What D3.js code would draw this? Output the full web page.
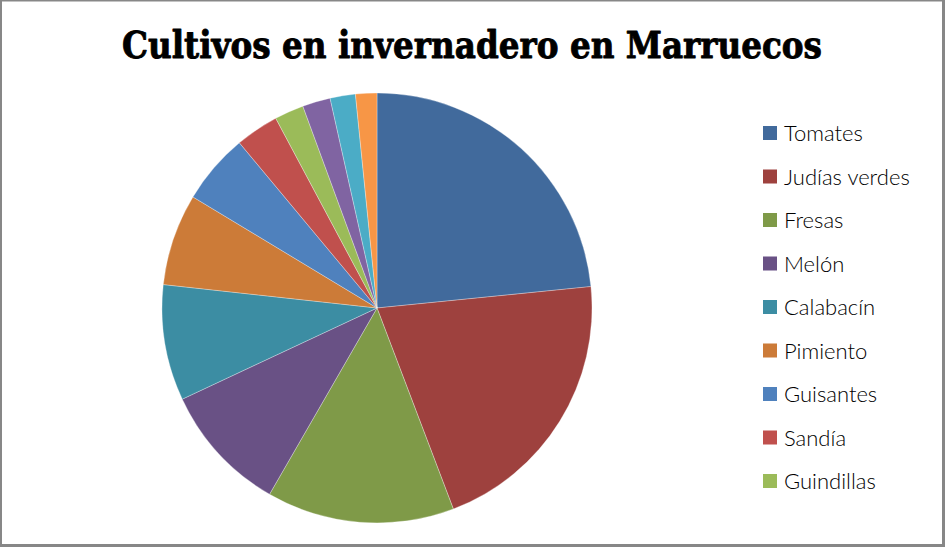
<!DOCTYPE html>
<html><head><meta charset="utf-8">
<script src="https://cdn.jsdelivr.net/npm/d3@7"></script>
<style>html,body{margin:0;padding:0;background:#fff;overflow:hidden}</style>
</head><body>
<svg id="chart" width="945" height="547"></svg>
<script>
const title = "Cultivos en invernadero en Marruecos";
const categories = ["Tomates","Judías verdes","Fresas","Melón","Calabacín","Pimiento","Guisantes","Sandía","Guindillas","Berenjenas","Pepinos","Otros"];
const values = [23.4,20.8,14.1,9.7,8.7,6.9,5.3,3.25,2.2,2.1,1.9,1.6];
const legendCount = 9;
const colors = ["#416A9C","#9E413E","#7F9A48","#695185","#3C8DA3","#CC7B38","#4F81BD","#C0504D","#9BBB59","#8064A2","#4BACC6","#F79646"];

const svg = d3.select("#chart");
const W = 945, H = 547;
svg.append("rect").attr("x",0).attr("y",0).attr("width",W).attr("height",H).attr("fill","#fff");

// border
svg.append("rect").attr("x",1).attr("y",0.5).attr("width",W-3).attr("height",H-2.5)
  .attr("fill","none").attr("stroke","#878787").attr("stroke-width",2);
svg.append("line").attr("x1",W-1.5).attr("x2",W-1.5).attr("y1",0).attr("y2",H).attr("stroke","#878787").attr("stroke-width",3);
svg.append("line").attr("x1",0).attr("x2",W).attr("y1",H-1.5).attr("y2",H-1.5).attr("stroke","#878787").attr("stroke-width",3);

// title
const t = svg.append("text").attr("x",472).attr("y",58).attr("text-anchor","middle")
  .attr("font-family","'DejaVu Serif'").attr("font-weight","bold")
  .attr("font-size",38).attr("fill","#000")
  .attr("stroke","#000").attr("stroke-width",0.9).attr("stroke-linejoin","round").text(title);
const tl = t.node().getComputedTextLength();
if (Math.abs(tl-700) > 2) t.attr("textLength",700).attr("lengthAdjust","spacingAndGlyphs");

// pie
const cx = 377, cy = 308, R = 215;
const color = d3.scaleOrdinal().domain(categories).range(colors);
const pie = d3.pie().sort(null).value(d => d.v);
const data = categories.map((c,i) => ({c, v: values[i]}));
const arc = d3.arc().innerRadius(0).outerRadius(R);
svg.append("g").attr("transform",`translate(${cx},${cy})`)
  .selectAll("path").data(pie(data)).join("path")
  .attr("d",arc).attr("fill",d => color(d.data.c))
  .attr("stroke","#fff").attr("stroke-width",0.5).attr("stroke-opacity",0.6);

// legend
const ly = d3.scalePoint().domain(categories.slice(0,legendCount)).range([133,481]);
const lg = svg.append("g").selectAll("g").data(categories.slice(0,legendCount)).join("g")
  .attr("transform",c => `translate(763,${ly(c)})`);
lg.append("rect").attr("x",0).attr("y",-7).attr("width",14).attr("height",14).attr("fill",c => color(c));
lg.append("text").attr("x",21).attr("y",8).attr("font-family","Lato, sans-serif").attr("font-weight",300)
  .attr("font-size",22).attr("fill","#000").text(c => c);
</script>
</body></html>
